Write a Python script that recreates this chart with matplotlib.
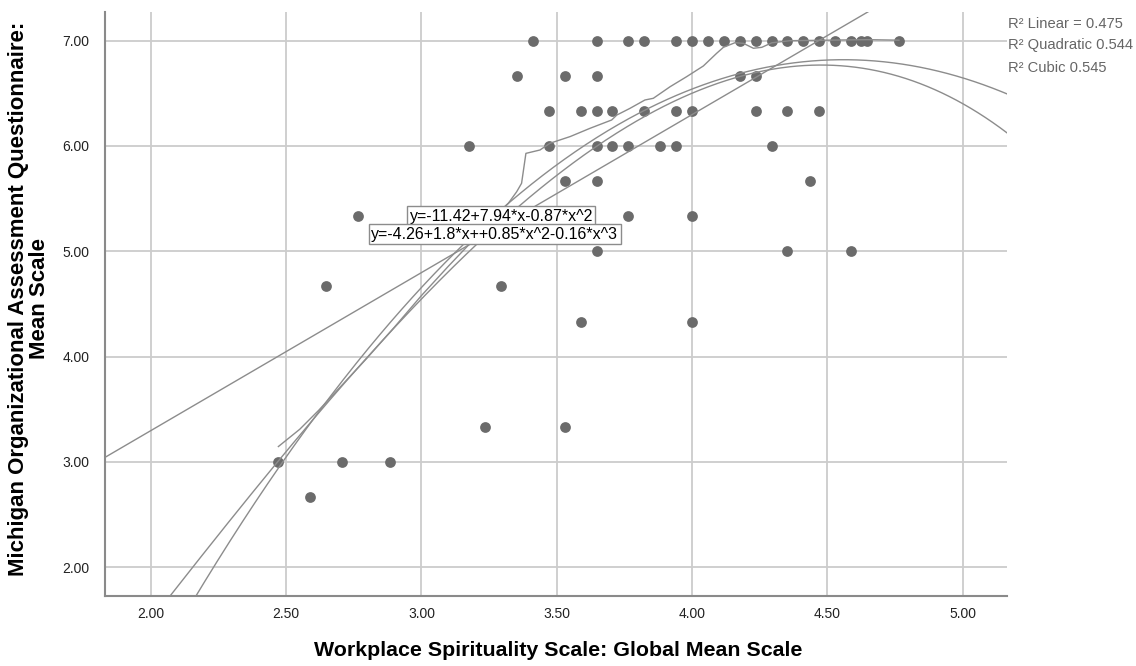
import matplotlib
matplotlib.use('Agg')
import matplotlib.pyplot as plt
import numpy as np

plt.rcParams['font.family'] = ['Liberation Sans', 'DejaVu Sans']

# scatter points, one list of x values per MOAQ level
x_700 = [3.412, 3.647, 3.765, 3.824, 3.941, 4.000, 4.059, 4.118, 4.176, 4.235,
         4.294, 4.353, 4.412, 4.471, 4.529, 4.588, 4.625, 4.647, 4.765]
x_667 = [3.353, 3.529, 3.647, 4.176, 4.235]
x_633 = [3.471, 3.588, 3.647, 3.706, 3.824, 3.941, 4.000, 4.235, 4.353, 4.471]
x_600 = [3.176, 3.471, 3.647, 3.706, 3.765, 3.882, 3.941, 4.294]
x_567 = [3.529, 3.647, 4.438]
x_533 = [2.765, 3.765, 4.000]
x_500 = [3.647, 4.353, 4.588]
x_467 = [2.647, 3.294]
x_433 = [3.588, 4.000]
x_333 = [3.235, 3.529]
x_300 = [2.471, 2.706, 2.882]
x_267 = [2.588]

levels = [7.0, 6.667, 6.333, 6.0, 5.667, 5.333, 5.0, 4.667, 4.333, 3.333, 3.0, 2.667]
rows = [x_700, x_667, x_633, x_600, x_567, x_533, x_500, x_467, x_433, x_333, x_300, x_267]

# fit lines (coefficients low order first, read to match the drawn curves)
lin_coef = [0.298, 1.50]
quad_coef = [-11.66, 8.105, -0.8887]
cubic_coef = [-4.0904, 1.66738, 0.88052, -0.15885]

# loess-like line
loess_x = [2.471, 2.55, 2.62, 2.692, 2.8, 2.9, 3.0, 3.1, 3.2, 3.28, 3.321, 3.352,
           3.37, 3.386, 3.438, 3.475, 3.55, 3.623, 3.703, 3.722, 3.771, 3.826,
           3.857, 3.919, 3.98, 4.042, 4.091, 4.116, 4.159, 4.19, 4.227, 4.258,
           4.295, 4.362, 4.5, 4.65, 4.765]
loess_y = [3.146, 3.31, 3.49, 3.69, 3.99, 4.28, 4.58, 4.86, 5.13, 5.35, 5.456, 5.566,
           5.646, 5.93, 5.962, 6.026, 6.09, 6.168, 6.247, 6.294, 6.358, 6.437,
           6.453, 6.563, 6.658, 6.76, 6.88, 6.937, 6.981, 6.975, 6.928, 6.937,
           6.98, 7.0, 7.005, 7.01, 7.005]

r2_text = ['R\u00b2 Linear = 0.475', 'R\u00b2 Quadratic 0.544', 'R\u00b2 Cubic 0.545']
quad_label = 'y=-11.42+7.94*x-0.87*x^2'
cubic_label = 'y=-4.26+1.8*x++0.85*x^2-0.16*x^3'

W, H = 1136, 666
fig = plt.figure(figsize=(W / 100, H / 100), dpi=100)
ax = fig.add_axes([105 / W, 1 - 596 / H, (1007 - 105) / W, (596 - 11.7) / H])
xlim = (1.830, 5.1645)
ax.set_xlim(*xlim)
ax.set_ylim(1.7265, 7.2754)

ax.set_xticks(np.arange(2.0, 5.01, 0.5))
ax.set_xticklabels(['%.2f' % v for v in np.arange(2.0, 5.01, 0.5)])
ax.set_yticks(range(2, 8))
ax.set_yticklabels(['%.2f' % v for v in range(2, 8)])
ax.tick_params(axis='both', length=0, labelsize=10, colors='#222222')
ax.tick_params(axis='y', pad=11)
ax.tick_params(axis='x', pad=8)
ax.grid(color='#cccccc', lw=1.3)
ax.set_axisbelow(True)
for s in ['top', 'right']:
    ax.spines[s].set_visible(False)
for s in ['left', 'bottom']:
    ax.spines[s].set_color('#8a8a8a')
    ax.spines[s].set_linewidth(1.5)

xs = np.concatenate([np.array(r) for r in rows])
ys = np.concatenate([np.full(len(r), lv) for r, lv in zip(rows, levels)])
ax.scatter(xs, ys, s=60, color='#6b6b6b', linewidths=0, zorder=3)

xx = np.linspace(xlim[0], xlim[1], 500)
lc = '#8c8c8c'
for coef in [lin_coef, quad_coef, cubic_coef]:
    ax.plot(xx, np.polynomial.polynomial.polyval(xx, coef), color=lc, lw=1.0, zorder=4)
ax.plot(loess_x, loess_y, color=lc, lw=1.0, zorder=4)

box = dict(boxstyle='square,pad=0.15', fc='white', ec='#8c8c8c', lw=1.0)
ax.text(2.956, 5.335, quad_label, fontsize=11.5, va='center', ha='left', bbox=box, zorder=5)
ax.text(2.814, 5.164, cubic_label, fontsize=11.5, va='center', ha='left', bbox=box, zorder=6)

for i, t in enumerate(r2_text):
    fig.text(1008 / W, 1 - (23.5 + 22 * i) / H, t, fontsize=10.6, color='#666666',
             ha='left', va='center')

fig.text(558 / W, 1 - 651 / H, 'Workplace Spirituality Scale: Global Mean Scale',
         fontsize=15.4, fontweight='bold', ha='center', va='center')
fig.text(29 / W, 1 - 299 / H, 'Michigan Organizational Assessment Questionnaire:\nMean Scale',
         fontsize=16, fontweight='bold', ha='center', va='center', rotation=90,
         linespacing=1.05)

fig.savefig('out.png', dpi=100)
